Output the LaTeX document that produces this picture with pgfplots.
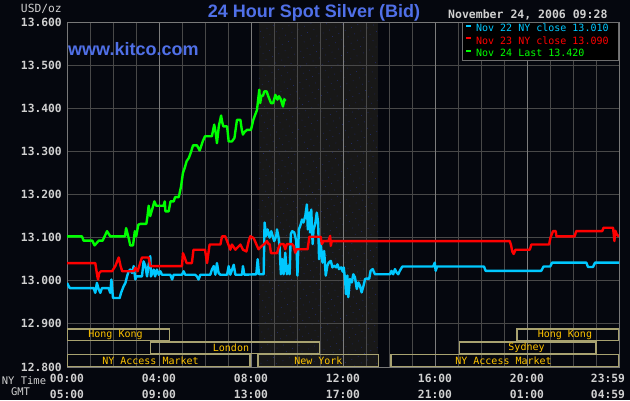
\documentclass[border=0pt]{standalone}
\usepackage{pgfplots}
\pgfplotsset{compat=1.18}
\usepackage{fontspec}
\setmainfont{Liberation Sans}
\newfontfamily\mono{DejaVu Sans Mono}
\usetikzlibrary{patterns.meta}
\definecolor{bg}{RGB}{5,7,14}
\definecolor{gridc}{RGB}{72,72,72}
\definecolor{gridb}{RGB}{124,124,124}
\definecolor{axc}{RGB}{120,120,120}
\definecolor{shadec}{RGB}{24,24,24}
\definecolor{dotc}{RGB}{34,46,120}
\definecolor{boxc}{RGB}{168,162,112}
\definecolor{mktc}{RGB}{255,196,0}
\definecolor{titlec}{RGB}{80,112,232}
\definecolor{tickc}{RGB}{208,208,208}
\definecolor{cyanc}{RGB}{0,200,255}
\definecolor{redc}{RGB}{255,0,0}
\definecolor{greenc}{RGB}{0,255,0}
\definecolor{legc}{RGB}{110,110,110}
\pagecolor{bg}
\begin{document}
\begin{tikzpicture}
\path (0pt,0pt) rectangle (630pt,400pt);
\begin{axis}[
  at={(67pt,33pt)}, anchor=south west,
  scale only axis, width=552pt, height=345pt,
  set layers,
  xmin=0, xmax=24, ymin=12.8, ymax=13.6,
  axis line style={draw=axc, line width=1pt},
  major tick length=0pt, minor tick length=0pt,
  ytick={12.8,12.9,13.0,13.1,13.2,13.3,13.4,13.5,13.6},
  yticklabels={12.800,12.900,13.000,13.100,13.200,13.300,13.400,13.500,13.600},
  yticklabel style={anchor=east, inner sep=0pt, xshift=-5pt, text=tickc, font=\mono\bfseries\fontsize{11.3}{14}\selectfont},
  xtick={0,4,8,12,16,20,23.52},
  xticklabels={{00:00\\05:00},{04:00\\09:00},{08:00\\13:00},{12:00\\17:00},{16:00\\21:00},{20:00\\01:00},{23:59\\04:59}},
  xticklabel style={align=center, anchor=north, inner sep=0pt, yshift=-7pt, text=tickc, font=\mono\bfseries\fontsize{11.3}{16}\selectfont},
  xmajorgrids=false, ymajorgrids=true,
  minor xtick={0,1,...,24}, xminorgrids=true,
  major grid style={draw=gridc, line width=1pt},
  minor grid style={draw=gridc, line width=1pt},
  extra x ticks={4,8,12,16,20}, extra x tick labels={},
  extra x tick style={xmajorgrids=true, major grid style={draw=gridb, line width=1pt}},
  legend style={at={(1,1)}, anchor=north east, fill=black, draw=legc, line width=0.8pt,
    font=\mono\fontsize{10}{12}\selectfont, inner xsep=3pt, inner ysep=2pt,
    row sep=3.5pt, column sep=4pt, nodes={inner sep=0pt, text height=7.5pt, text depth=1.5pt}},
  legend cell align=left,
  legend image code/.code={\draw[#1, line width=2pt] (0pt,3.3pt) -- (5pt,3.3pt);},
]
\addplot[on layer=axis background, fill=shadec, draw=none, forget plot] coordinates {(8.33,12.8) (13.5,12.8) (13.5,13.6) (8.33,13.6)} -- cycle;
\addplot[on layer=axis background, pattern={Dots[distance=7pt, radius=0.45pt, angle=25]}, pattern color=dotc, draw=none, forget plot] coordinates {(8.33,12.8) (13.5,12.8) (13.5,13.6) (8.33,13.6)} -- cycle;

\addplot[cyanc, line width=2.4pt, line join=round] coordinates {
(0,12.995)(0.12,12.983)(1.16,12.983)(1.23,12.972)(1.30,12.995)(1.38,12.980)(1.45,12.972)(1.52,12.983)(1.81,12.983)(1.88,12.972)(1.93,13.003)(2.00,12.960)(2.29,12.960)(2.35,12.972)(2.46,12.987)(2.54,12.995)(2.61,13.010)(2.68,13.022)(2.75,13.026)(2.83,13.018)(2.90,13.034)(2.97,13.003)(3.01,13.010)(3.26,13.010)(3.33,13.045)(3.41,13.034)(3.48,13.010)(3.55,13.037)(3.62,13.057)(3.65,13.010)(3.77,13.026)(3.83,13.010)(3.91,13.026)(3.99,13.014)(4.06,13.022)(4.13,13.014)(4.49,13.014)(4.57,13.003)(4.64,13.014)(5.00,13.014)(5.07,13.022)(5.14,13.014)(5.57,13.014)(5.65,13.010)(5.72,13.003)(5.80,13.014)(6.23,13.014)(6.30,13.026)(6.38,13.034)(6.45,13.014)(6.52,13.041)(6.59,13.018)(6.67,13.014)(6.96,13.014)(7.03,13.034)(7.10,13.014)(7.25,13.037)(7.32,13.014)(7.61,13.014)(7.65,13.034)(7.71,13.014)(8.23,13.015)(8.29,13.050)(8.35,13.015)(8.55,13.015)(8.59,13.135)(8.66,13.104)(8.72,13.119)(8.81,13.100)(8.88,13.115)(8.94,13.104)(9.01,13.092)(9.10,13.104)(9.13,13.119)(9.20,13.100)(9.24,13.081)(9.30,13.015)(9.36,13.050)(9.42,13.015)(9.49,13.065)(9.56,13.015)(9.63,13.035)(9.68,13.015)(9.73,13.108)(9.79,13.115)(9.88,13.112)(9.97,13.092)(10.02,13.012)(10.08,13.119)(10.14,13.127)(10.22,13.142)(10.28,13.135)(10.36,13.150)(10.43,13.177)(10.47,13.119)(10.53,13.158)(10.57,13.112)(10.62,13.165)(10.68,13.085)(10.72,13.119)(10.79,13.131)(10.86,13.158)(10.92,13.135)(10.96,13.050)(11.03,13.088)(11.11,13.042)(11.18,13.069)(11.25,13.012)(11.32,13.035)(11.38,13.042)(11.47,13.046)(11.54,13.031)(11.61,13.035)(11.70,13.031)(11.76,13.038)(11.83,13.027)(11.92,13.031)(11.99,13.021)(12.03,13.031)(12.09,13.004)(12.13,12.969)(12.19,13.012)(12.23,12.962)(12.30,13.004)(12.38,12.996)(12.45,13.015)(12.52,13.008)(12.60,12.981)(12.67,12.996)(12.74,12.988)(12.81,12.973)(12.89,12.988)(12.96,13.004)(13.02,13.005)(13.14,13.005)(13.20,13.023)(13.29,13.027)(13.39,13.015)(14.04,13.015)(14.11,13.023)(14.18,13.015)(14.26,13.027)(14.33,13.019)(14.40,13.015)(14.47,13.023)(14.58,13.033)(15.92,13.033)(15.99,13.042)(16.03,13.023)(16.09,13.033)(18.13,13.033)(18.20,13.023)(20.62,13.023)(20.72,13.033)(21.01,13.033)(21.09,13.042)(22.58,13.042)(22.65,13.032)(22.87,13.032)(22.96,13.042)(24.00,13.042)};
\addlegendentry{\textcolor{cyanc}{Nov 22 NY close 13.010}\hspace*{7pt}}

\addplot[redc, line width=2.4pt, line join=round] coordinates {
(0,13.041)(1.23,13.041)(1.32,13.010)(1.35,13.003)(1.40,13.018)(1.48,13.022)(1.96,13.022)(2.10,13.034)(2.25,13.054)(2.33,13.034)(2.40,13.022)(2.90,13.022)(2.97,13.030)(3.07,13.022)(3.18,13.041)(3.26,13.054)(3.55,13.054)(3.62,13.034)(5.00,13.034)(5.04,13.064)(5.13,13.052)(5.20,13.041)(5.43,13.041)(5.50,13.072)(6.00,13.072)(6.09,13.041)(6.20,13.084)(6.67,13.084)(6.74,13.103)(6.88,13.103)(6.96,13.092)(7.10,13.072)(7.17,13.084)(7.32,13.072)(7.54,13.084)(7.65,13.072)(7.80,13.068)(7.90,13.092)(7.97,13.103)(8.09,13.100)(8.14,13.096)(8.26,13.081)(8.33,13.073)(8.40,13.077)(8.48,13.081)(8.58,13.085)(8.69,13.092)(8.77,13.085)(8.81,13.085)(8.87,13.064)(9.13,13.064)(9.20,13.077)(9.27,13.085)(9.42,13.085)(9.49,13.073)(9.56,13.085)(9.78,13.085)(9.85,13.081)(9.92,13.065)(9.99,13.073)(10.46,13.073)(10.54,13.102)(11.03,13.102)(11.08,13.085)(11.15,13.092)(11.37,13.092)(11.44,13.104)(11.47,13.081)(11.51,13.092)(19.25,13.092)(19.30,13.084)(19.36,13.068)(19.42,13.062)(19.50,13.072)(20.12,13.072)(20.19,13.084)(20.96,13.084)(21.02,13.100)(21.13,13.115)(21.25,13.115)(21.28,13.103)(22.07,13.103)(22.14,13.115)(23.27,13.115)(23.33,13.123)(23.74,13.123)(23.77,13.109)(23.80,13.092)(23.84,13.116)(23.90,13.108)(24.00,13.102)};
\addlegendentry{\textcolor{redc}{Nov 23 NY close 13.090}\hspace*{7pt}}

\addplot[greenc, line width=2.4pt, line join=round] coordinates {
(0.00,13.103)(0.65,13.103)(0.72,13.093)(1.10,13.093)(1.20,13.082)(1.30,13.088)(1.38,13.093)(1.55,13.093)(1.74,13.115)(1.88,13.103)(2.52,13.103)(2.57,13.122)(2.70,13.095)(2.75,13.082)(2.87,13.082)(2.95,13.115)(3.01,13.103)(3.10,13.130)(3.20,13.132)(3.45,13.132)(3.50,13.150)(3.55,13.174)(3.62,13.150)(3.70,13.165)(3.80,13.184)(3.88,13.174)(4.20,13.174)(4.25,13.184)(4.28,13.161)(4.42,13.161)(4.50,13.184)(4.64,13.184)(4.70,13.194)(4.86,13.194)(4.96,13.219)(5.04,13.250)(5.12,13.262)(5.20,13.277)(5.30,13.285)(5.40,13.300)(5.48,13.314)(5.65,13.314)(5.77,13.302)(5.90,13.323)(6.00,13.335)(6.30,13.335)(6.40,13.362)(6.46,13.345)(6.52,13.319)(6.60,13.358)(6.70,13.383)(6.76,13.365)(6.80,13.358)(6.96,13.358)(7.03,13.323)(7.17,13.323)(7.28,13.331)(7.39,13.373)(7.54,13.373)(7.60,13.350)(7.65,13.339)(7.72,13.345)(7.83,13.350)(8.00,13.350)(8.10,13.373)(8.26,13.396)(8.36,13.443)(8.40,13.412)(8.45,13.429)(8.52,13.429)(8.58,13.439)(8.68,13.439)(8.75,13.428)(8.87,13.412)(8.96,13.412)(9.06,13.431)(9.15,13.420)(9.22,13.428)(9.30,13.420)(9.39,13.404)(9.45,13.421)(9.47,13.418)(9.49,13.421)};
\addlegendentry{\textcolor{greenc}{Nov 24 Last 13.420}\hspace*{7pt}}

% market session boxes
\begin{scope}[boxc, line width=1.5pt]
\draw (axis cs:0.03,12.861) rectangle (axis cs:4.46,12.8885);
\draw (axis cs:19.57,12.861) rectangle (axis cs:23.97,12.8885);
\draw (axis cs:3.63,12.8315) rectangle (axis cs:10.98,12.8585);
\draw (axis cs:17.06,12.8315) rectangle (axis cs:22.99,12.8585);
\draw (axis cs:0.03,12.8015) rectangle (axis cs:7.96,12.829);
\draw (axis cs:8.30,12.8015) rectangle (axis cs:13.54,12.829);
\draw (axis cs:14.09,12.8015) rectangle (axis cs:23.97,12.829);
\end{scope}
\begin{scope}[every node/.style={text=mktc, inner sep=0pt, font=\mono\fontsize{10}{12}\selectfont}]
\node at (axis cs:2.11,12.8753) {Hong Kong};
\node at (axis cs:21.65,12.8753) {Hong Kong};
\node at (axis cs:7.13,12.8456) {London};
\node at (axis cs:19.98,12.8456) {Sydney};
\node at (axis cs:3.63,12.8155) {NY Access Market};
\node at (axis cs:10.93,12.8155) {New York};
\node at (axis cs:18.98,12.8155) {NY Access Market};
\end{scope}
\end{axis}

\node[anchor=base, inner sep=0pt, text=titlec, font=\bfseries\fontsize{18}{20}\selectfont] at (314pt,382.7pt) {24 Hour Spot Silver (Bid)};
\node[anchor=base west, inner sep=0pt, text=tickc, font=\mono\bfseries\fontsize{11.5}{14}\selectfont] at (448pt,381.7pt) {November 24, 2006 09:28};
\node[anchor=base west, inner sep=0pt, text=titlec, font=\bfseries\fontsize{18}{20}\selectfont] at (68pt,344pt) {www.kitco.com};
\node[anchor=base east, inner sep=0pt, text=tickc, font=\mono\fontsize{11.3}{14}\selectfont] at (62pt,387.7pt) {USD/oz};
\node[anchor=base, inner sep=0pt, text=tickc, font=\mono\fontsize{10.5}{14}\selectfont] at (24pt,16pt) {NY Time};
\node[anchor=base, inner sep=0pt, text=tickc, font=\mono\fontsize{10.5}{14}\selectfont] at (20.5pt,5pt) {GMT};
\end{tikzpicture}
\end{document}
